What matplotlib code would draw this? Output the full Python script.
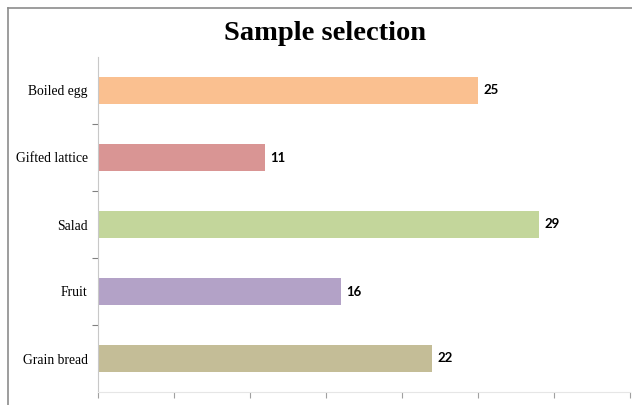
import numpy as np
import matplotlib.pyplot as plt
from matplotlib.lines import Line2D

categories = ['Boiled egg', 'Gifted lattice', 'Salad', 'Fruit', 'Grain bread']
values = [25, 11, 29, 16, 22]
colors = ['#FAC090', '#D99594', '#C3D69B', '#B3A2C7', '#C4BD97']

fig = plt.figure(figsize=(6.32, 4.05), dpi=100)
ax = fig.add_axes([98 / 632, 13 / 405, 532 / 632, 335 / 405])

y_pos = np.arange(len(categories))
ax.barh(y_pos, values, height=0.39, color=colors)
ax.set_ylim(len(categories) - 0.5, -0.5)
ax.set_xlim(0, 35)

for y, v in zip(y_pos, values):
    ax.text(v + 0.35, y, str(v), va='center', ha='left', fontsize=9.5,
            fontweight='bold', family='Lato', color='black')

# category labels at bar centres, ticks at band boundaries
ax.set_yticks(y_pos)
ax.set_yticklabels(categories, family='Liberation Serif', fontsize=9.8)
ax.tick_params(axis='y', which='major', length=0, pad=7.5)
ax.set_yticks(np.arange(0.5, len(categories) - 1, 1), minor=True)
ax.tick_params(axis='y', which='minor', length=4, color='#808080', width=0.8)

ax.set_xticks(np.arange(0, 36, 5))
ax.set_xticklabels([])
ax.tick_params(axis='x', length=4, color='#A0A0A0', width=0.8)

for s in ['top', 'right']:
    ax.spines[s].set_visible(False)
ax.spines['left'].set_color('#C8C8C8')
ax.spines['bottom'].set_color('#E6E6E6')

fig.text(0.515, 0.918, 'Sample selection', ha='center', va='center',
         family='Liberation Serif', fontweight='bold', fontsize=20.5)

# outer frame lines (top and left only are visible)
fig.add_artist(Line2D([8 / 632, 1], [1 - 8 / 405, 1 - 8 / 405],
                      transform=fig.transFigure, color='#8C8C8C', lw=1.2))
fig.add_artist(Line2D([8 / 632, 8 / 632], [0, 1 - 8 / 405],
                      transform=fig.transFigure, color='#8C8C8C', lw=1.2))

fig.savefig('out.png', dpi=100)
